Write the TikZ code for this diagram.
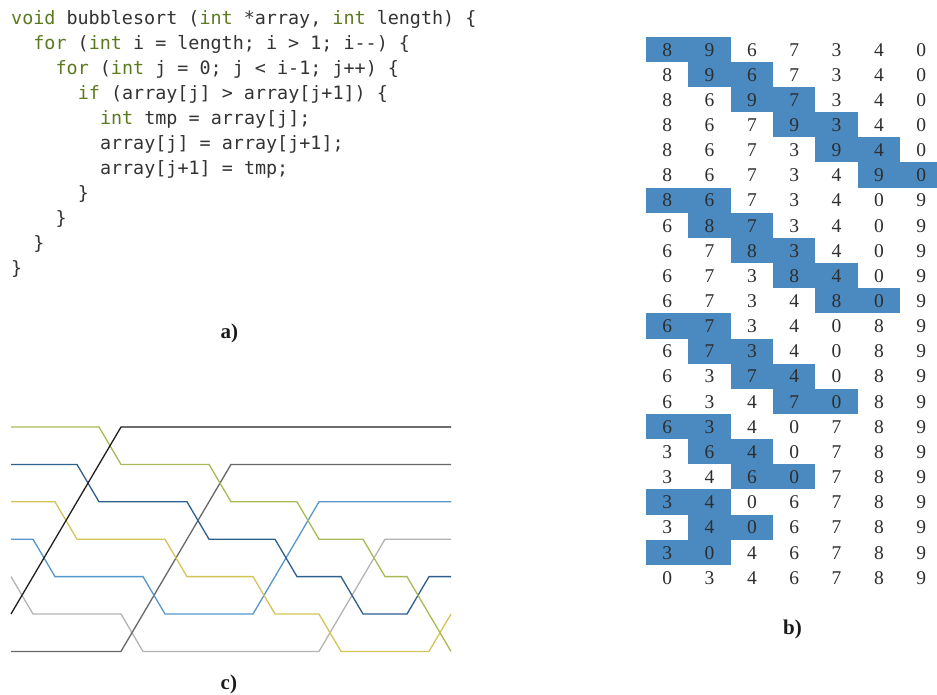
\documentclass[tikz,border=0pt]{standalone}
\usepackage{fontspec}
\setmonofont{DejaVu Sans Mono}
\newfontfamily\digfont{Liberation Serif}
\definecolor{kwc}{HTML}{5B7A1E}
\definecolor{codetxt}{HTML}{333333}
\definecolor{hlc}{HTML}{4A8AC0}
\definecolor{wolive}{HTML}{A8BA55}
\definecolor{wnavy}{HTML}{2D5F8C}
\definecolor{wyellow}{HTML}{D4C458}
\definecolor{wblue}{HTML}{5596CC}
\definecolor{wlgray}{HTML}{B3B3B3}
\definecolor{wdgray}{HTML}{666666}
\definecolor{wblack}{HTML}{1E1E1E}
\newcommand{\kw}[1]{\textcolor{kwc}{#1}}
\begin{document}
\begin{tikzpicture}[x=1pt,y=-1pt,
  codeline/.style={anchor=base west, inner sep=0pt, font=\fontsize{18.4}{20}\selectfont\ttfamily, text=codetxt},
  digit/.style={anchor=base, inner sep=0pt, font=\fontsize{19.5}{22}\selectfont\digfont, text=black!82},
  lab/.style={anchor=base west, inner sep=0pt, font=\fontsize{21}{22}\selectfont\digfont\bfseries, text=black!90},
  wire/.style={line width=1.3pt}]
\useasboundingbox (0,0) rectangle (937,694);

% ---- a) code ----
\node[codeline] (c1) at (11,24) {\kw{void} bubblesort (\kw{int} *array, \kw{int} length) \{};
\node[codeline] (c2) at (33.2,49) {\kw{for} (\kw{int} i = length; i > 1; i-{}-) \{};
\node[codeline] (c3) at (55.4,74) {\kw{for} (\kw{int} j = 0; j < i-1; j++) \{};
\node[codeline] (c4) at (77.6,99) {\kw{if} (array[j] > array[j+1]) \{};
\node[codeline] (c5) at (99.8,124) {\kw{int} tmp = array[j];};
\node[codeline] (c6) at (99.8,149) {array[j] = array[j+1];};
\node[codeline] (c7) at (99.8,174) {array[j+1] = tmp;};
\node[codeline] (c8) at (77.6,199) {\}};
\node[codeline] (c9) at (55.4,224) {\}};
\node[codeline] (c10) at (33.2,249) {\}};
\node[codeline] (c11) at (11,274) {\}};
\node[lab] (la) at (220.5,338) {a)};

% ---- b) table ----
\foreach \r/\h in {0/0,1/1,2/2,3/3,4/4,5/5,6/0,7/1,8/2,9/3,10/4,11/0,12/1,13/2,14/3,15/0,16/1,17/2,18/0,19/1,20/0}{
  \fill[hlc] ({646+42.35*\h},{36.7+25.15*\r}) rectangle ++(84.7,25.15);
}
\foreach \r/\d in {0/{8,9,6,7,3,4,0},1/{8,9,6,7,3,4,0},2/{8,6,9,7,3,4,0},3/{8,6,7,9,3,4,0},
  4/{8,6,7,3,9,4,0},5/{8,6,7,3,4,9,0},6/{8,6,7,3,4,0,9},7/{6,8,7,3,4,0,9},
  8/{6,7,8,3,4,0,9},9/{6,7,3,8,4,0,9},10/{6,7,3,4,8,0,9},11/{6,7,3,4,0,8,9},
  12/{6,7,3,4,0,8,9},13/{6,3,7,4,0,8,9},14/{6,3,4,7,0,8,9},15/{6,3,4,0,7,8,9},
  16/{3,6,4,0,7,8,9},17/{3,4,6,0,7,8,9},18/{3,4,0,6,7,8,9},19/{3,4,0,6,7,8,9},
  20/{3,0,4,6,7,8,9},21/{0,3,4,6,7,8,9}}{
  \foreach \v [count=\c from 0] in \d {
    \node[digit] (d\r-\c) at ({667.2+42.35*\c},{56+25.15*\r}) {\v};
  }
}
\node[lab] (lb) at (783,634.3) {b)};

% ---- c) wires ----
\begin{scope}[x=22pt,y=-37.4pt,shift={(11pt,-427pt)}]
\draw[wire,wlgray] (0,4)--(1,5)--(5,5)--(6,6)--(14,6)--(17,3)--(20,3);
\draw[wire,wdgray] (0,6)--(5,6)--(10,1)--(20,1);
\draw[wire,wblue] (0,3)--(1,3)--(2,4)--(6,4)--(7,5)--(11,5)--(14,2)--(20,2);
\draw[wire,wyellow] (0,2)--(2,2)--(3,3)--(7,3)--(8,4)--(11,4)--(12,5)--(14,5)--(15,6)--(19,6)--(20,5);
\draw[wire,wnavy] (0,1)--(3,1)--(4,2)--(8,2)--(9,3)--(12,3)--(13,4)--(15,4)--(16,5)--(18,5)--(19,4)--(20,4);
\draw[wire,wolive] (0,0)--(4,0)--(5,1)--(9,1)--(10,2)--(13,2)--(14,3)--(16,3)--(17,4)--(18,4)--(19,5)--(20,6);
\draw[wire,wblack] (0,5)--(5,0)--(20,0);
\end{scope}
\node[lab] (lc) at (220.5,689.3) {c)};
\end{tikzpicture}
\end{document}
